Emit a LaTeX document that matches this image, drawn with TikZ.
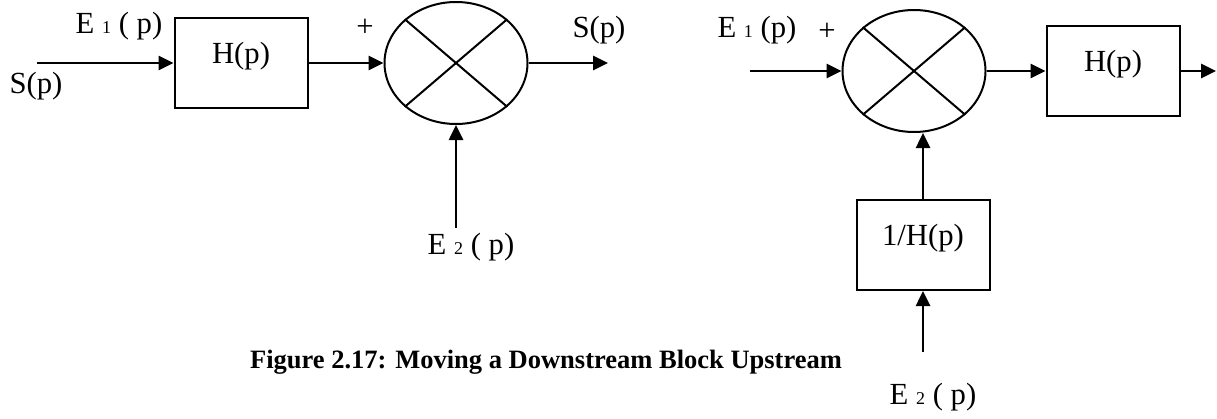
\documentclass[tikz,border=0pt]{standalone}
\usepackage{fontspec}
\setmainfont{Liberation Serif}
\usetikzlibrary{arrows.meta, shapes.geometric}

\newcommand{\idx}[1]{{\fontsize{18}{18}\selectfont #1}}

\begin{document}
\begin{tikzpicture}[
            x=1pt, y=-1pt,
            font=\fontsize{30.7}{36}\selectfont,
            block/.style={draw, line width=2pt, minimum width=133pt, minimum height=90pt, inner sep=0pt, text height=20pt, text depth=20pt},
            junction/.style={draw, ellipse, line width=2pt, minimum width=143pt, minimum height=122pt, inner sep=0pt},
            signal/.style={-{Triangle[length=15pt,width=14pt]}, line width=2.6pt},
            cross/.style={line width=2pt}
        ]
            \useasboundingbox (0,0) rectangle (1217,418);

            \node[block] (h1) at (241,63) {H(p)};
            \node[junction] (s1) at (456,63) {};
            \draw[cross] (s1.north west) -- (s1.south east);
            \draw[cross] (s1.north east) -- (s1.south west);
            \coordinate (in1) at (37,63);
            \coordinate (out1) at (608,63);
            \coordinate (e2a) at (456,228);
            \draw[signal] (in1) -- (h1);
            \draw[signal] (h1) -- (s1);
            \draw[signal] (s1) -- (out1);
            \draw[signal] (e2a) -- (s1.south);

            \node (sp1) at (36,86) {S(p)};
            \node (e11) at (119,26) {E \idx{1} ( p)};
            \node (plus1) at (365,28) {+};
            \node (sp2) at (599,30) {S(p)};
            \node (e21) at (471,247) {E \idx{2} ( p)};

            \node[junction] (s2) at (914,71) {};
            \draw[cross] (s2.north west) -- (s2.south east);
            \draw[cross] (s2.north east) -- (s2.south west);
            \node[block] (h2) at (1113,71) {H(p)};
            \node[block] (g2) at (923,245) {1/H(p)};
            \coordinate (in2) at (750,71);
            \coordinate (out2) at (1216,71);
            \coordinate (e2b) at (923,352);
            \draw[signal] (in2) -- (s2);
            \draw[signal] (s2) -- (h2);
            \draw[signal] (h2) -- (out2);
            \draw[signal] (g2.north) -- (g2.north |- s2.south);
            \draw[signal] (e2b) -- (g2.south);

            \node (e12) at (757,30) {E \idx{1} (p)};
            \node (plus2) at (827,32) {+};
            \node (e22) at (933,397) {E \idx{2} ( p)};

            \node[font=\fontsize{26.5}{32}\selectfont\bfseries] (cap) at (546,362) {Figure 2.17: Moving a Downstream Block Upstream};
        \end{tikzpicture}
\end{document}
